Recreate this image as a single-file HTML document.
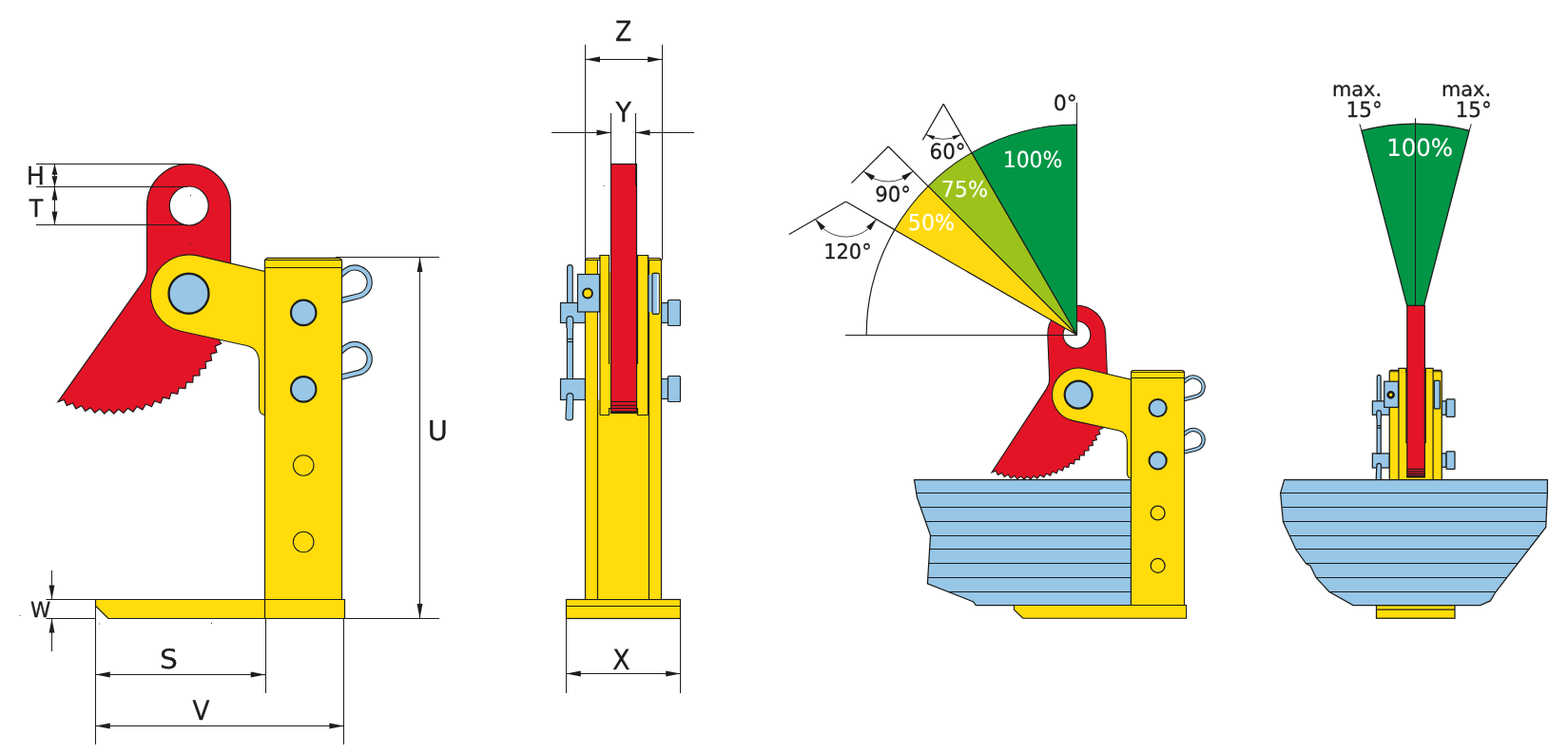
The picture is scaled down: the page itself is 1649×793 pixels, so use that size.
<!DOCTYPE html>
<html lang="en">
<head>
<meta charset="utf-8">
<title>Clamp dimensions and load diagram</title>
<style>
html,body{margin:0;padding:0;background:#fff;}
body{width:1649px;height:793px;overflow:hidden;}
svg{display:block;}
text{text-rendering:geometricPrecision;font-family:"DejaVu Sans Condensed","DejaVu Sans","Liberation Sans",sans-serif;fill:#1d1d1b;stroke:#1d1d1b;stroke-linejoin:round;}
text.r{font-family:"DejaVu Sans","Liberation Sans",sans-serif;}
text.l{font-family:"Liberation Sans","DejaVu Sans",sans-serif;}
text.w{fill:#fff;stroke:#fff;}
.ah{fill:#1d1d1b;stroke:none;}
</style>
</head>
<body>
<svg width="1649" height="793" viewBox="0 0 1649 793">
<rect width="1649" height="793" fill="#fff"/>
<g fill="none" stroke="#1d1d1b" stroke-width="1" stroke-linejoin="miter">
<g transform="" stroke-width="1.2">
<path d="M355,316.9 L377.5,311.3 C384,309.5 388.7,304 388.7,297 C388.7,288.5 381.5,281.4 372.5,281.4 C366.5,281.4 362,285.6 355,292.2" fill="none" stroke-width="6.3"/>
<path d="M355,316.9 L377.5,311.3 C384,309.5 388.7,304 388.7,297 C388.7,288.5 381.5,281.4 372.5,281.4 C366.5,281.4 362,285.6 355,292.2" fill="none" stroke="#97c6e7" stroke-width="4.02"/>
<path d="M355,397.5 L377.5,391.9 C384,390.1 388.7,384.6 388.7,377.6 C388.7,369.1 381.5,362 372.5,362 C366.5,362 362,366.2 355,372.8" fill="none" stroke-width="6.3"/>
<path d="M355,397.5 L377.5,391.9 C384,390.1 388.7,384.6 388.7,377.6 C388.7,369.1 381.5,362 372.5,362 C366.5,362 362,366.2 355,372.8" fill="none" stroke="#97c6e7" stroke-width="4.02"/>
<g><path d="M154.5,216.5 A44,44 0 0 1 242.5,216.5 L242.5,300 L228.6,355 L232.69,361.57 L226.36,363.99 L228.02,370.56 L221.52,372.47 L222.65,379.15 L216.02,380.54 L216.62,387.29 L209.9,388.16 L209.97,394.93 L203.21,395.26 L202.74,402.02 L195.97,401.82 L194.97,408.52 L188.24,407.79 L186.71,414.39 L180.06,413.12 L178.02,419.59 L171.48,417.8 L168.94,424.08 L162.56,421.78 L159.53,427.84 L153.36,425.05 L149.86,430.85 L143.93,427.58 L139.98,433.09 L134.32,429.36 L129.96,434.54 L124.61,430.38 L119.85,435.2 L114.85,430.63 L109.72,435.06 L105.09,430.1 L99.63,434.11 L95.41,428.81 L89.65,432.38 L85.86,426.76 L79.84,429.86 L76.51,423.96 L70.26,426.58 L67.4,420.43 L60.96,422.55 L149.9,297.2 Q154.5,290.5 154.5,283 Z" fill="#e41427"/>
<circle cx="198.75" cy="216.5" r="20.5" fill="#fff"/></g>
<polygon points="100.5,630.5 362.5,630.5 362.5,650.5 113.9,650.5 100.5,637.3" fill="#ffdc0a"/>
<path d="M278.5,630.5 V273.6 L280.9,271.4 H357.1 L359.5,273.6 V630.5 Z" fill="#ffdc0a"/>
<line x1="278.5" y1="273.5" x2="359.5" y2="273.5"/>
<line x1="278.5" y1="281.5" x2="359.5" y2="281.5"/>
<line x1="278.5" y1="630.5" x2="278.5" y2="650.5"/>
<path d="M207.87,268.87 L278.5,285.4 L278.5,436.4 Q273.2,436 272.5,429.5 L272.5,381.5 Q272.5,366.48 259.5,363.48 L189.9,348.26 A40.7,40.7 0 0 1 207.87,268.87 Z" fill="#ffdc0a" stroke-width="1.08"/>
<line x1="278.5" y1="284" x2="278.5" y2="437"/>
<circle cx="198.5" cy="308.7" r="21" fill="#97c6e7" stroke-width="2.4"/>
<circle cx="319.2" cy="328.9" r="13.2" fill="#97c6e7" stroke-width="2.16"/>
<circle cx="319.2" cy="409.4" r="13.2" fill="#97c6e7" stroke-width="2.16"/>
<circle cx="319.2" cy="489.5" r="10.8" fill="none" stroke-width="1.08"/>
<circle cx="319.2" cy="570" r="10.8" fill="none" stroke-width="1.08"/>
</g>
<line x1="38" y1="172.5" x2="197" y2="172.5"/>
<line x1="38" y1="196.5" x2="197" y2="196.5"/>
<line x1="38" y1="236.5" x2="197" y2="236.5"/>
<line x1="57.5" y1="172.5" x2="57.5" y2="236.5"/>
<polygon class="ah" points="57.5,172.5 60.45,183.7 54.55,183.7"/>
<polygon class="ah" points="57.5,196.5 54.55,185.3 60.45,185.3"/>
<polygon class="ah" points="57.5,196.5 60.45,210.5 54.55,210.5"/>
<polygon class="ah" points="57.5,236.5 54.55,222.5 60.45,222.5"/>
<line x1="48.5" y1="630.5" x2="100.5" y2="630.5"/>
<line x1="48.5" y1="650.5" x2="100.5" y2="650.5"/>
<line x1="54.5" y1="600" x2="54.5" y2="630.5"/>
<line x1="54.5" y1="650.5" x2="54.5" y2="685"/>
<polygon class="ah" points="54.5,630.5 51.55,615.5 57.45,615.5"/>
<polygon class="ah" points="54.5,650.5 57.45,665.5 51.55,665.5"/>
<line x1="100.5" y1="630.5" x2="100.5" y2="783"/>
<line x1="279.5" y1="650.5" x2="279.5" y2="729"/>
<line x1="361.5" y1="650.5" x2="361.5" y2="783"/>
<line x1="100.5" y1="709.5" x2="279" y2="709.5"/>
<polygon class="ah" points="100.5,709.5 115.8,706.55 115.8,712.45"/>
<polygon class="ah" points="279,709.5 263.7,712.45 263.7,706.55"/>
<line x1="100.5" y1="763.5" x2="361.7" y2="763.5"/>
<polygon class="ah" points="100.5,763.5 115.8,760.55 115.8,766.45"/>
<polygon class="ah" points="361.7,763.5 346.4,766.45 346.4,760.55"/>
<line x1="353" y1="270.5" x2="462" y2="270.5"/>
<line x1="363" y1="650.5" x2="462" y2="650.5"/>
<line x1="441.5" y1="270.4" x2="441.5" y2="650.5"/>
<polygon class="ah" points="441.5,270.4 444.45,285.9 438.55,285.9"/>
<polygon class="ah" points="441.5,650.5 438.55,635 444.45,635"/>
<circle cx="200.5" cy="205.5" r="0.55" fill="#1d1d1b" stroke="none"/>
<circle cx="200.5" cy="256.7" r="0.55" fill="#1d1d1b" stroke="none"/>
<circle cx="21" cy="647.5" r="0.55" fill="#1d1d1b" stroke="none"/>
<circle cx="104.5" cy="656" r="0.55" fill="#1d1d1b" stroke="none"/>
<circle cx="222.5" cy="655.5" r="0.55" fill="#1d1d1b" stroke="none"/>
<circle cx="635.2" cy="195.5" r="0.55" fill="#1d1d1b" stroke="none"/>
<circle cx="662.5" cy="195.5" r="0.55" fill="#1d1d1b" stroke="none"/>
<g transform="" stroke-width="1.2">
<path d="M596.6,318.5 V281.5 A2.8,2.8 0 0 1 602.2,281.5 V318.5 Z" fill="#97c6e7"/>
<rect x="589.5" y="318.5" width="26" height="21" fill="#97c6e7"/>
<rect x="589.5" y="398.5" width="26" height="22" fill="#97c6e7"/>
<path d="M596.4,398.5 V339.5 H602.4 V398.5 Z" fill="#97c6e7"/>
<line x1="596.4" y1="356.5" x2="602.4" y2="356.5"/>
<line x1="596.4" y1="359.5" x2="602.4" y2="359.5"/>
<path d="M595.9,345 V336 A3.4,3.4 0 0 1 602.7,336 V345" fill="#97c6e7"/>
<path d="M595,440 L596,417 A3.4,3.4 0 0 1 602.8,417 L602.4,440 A3.7,1.8 0 0 1 595,440 Z" fill="#97c6e7"/>
<rect x="695.5" y="318.5" width="7" height="21" fill="#97c6e7"/>
<rect x="702.5" y="315.5" width="13" height="27" rx="1" fill="#97c6e7"/>
<rect x="695.5" y="398.5" width="7" height="21" fill="#97c6e7"/>
<rect x="702.5" y="395.5" width="13" height="27" rx="1" fill="#97c6e7"/>
<rect x="595.5" y="630.5" width="120" height="20" fill="#ffdc0a"/>
<line x1="595.5" y1="637.5" x2="715.5" y2="637.5"/>
<path d="M615.5,630.5 V273.3 L617.2,271.5 H693.8 L695.5,273.3 V630.5 Z" fill="#ffdc0a"/>
<line x1="615.5" y1="273.5" x2="695.5" y2="273.5" stroke-width="1.2"/>
<line x1="628.5" y1="273.3" x2="628.5" y2="630.5"/>
<line x1="682.5" y1="273.3" x2="682.5" y2="630.5"/>
<rect x="629" y="274" width="1.7" height="146.4" fill="#fff" stroke="none"/>
<path d="M631,436.5 V268.5 H640.5 V383 M642.5,429.5 H640.5 V436.5 H631" fill="none" stroke-width="1.08"/>
<path d="M631,274.5 V268.5 H640.5 V274.5" fill="#ffdc0a" stroke-width="1.08"/>
<rect x="641.1" y="268.6" width="1" height="18" fill="#fff" stroke="none"/>
<path d="M681.5,436.5 V268.5 H670.5 V383 M669.5,429.5 H670.5 V436.5 H681.5" fill="none"/>
<path d="M670.5,274.5 V268.5 H681.5 V274.5" fill="#ffdc0a"/>
<rect x="607.5" y="288.5" width="23" height="39.5" fill="#97c6e7"/>
<circle cx="618" cy="308.5" r="4.9" fill="#ffdc0a" stroke-width="2.04"/>
<rect x="682.4" y="289" width="4" height="39" fill="#97c6e7" stroke="none"/>
<rect x="686" y="287.3" width="7.2" height="43" rx="1.2" fill="#97c6e7"/>
<rect x="691.2" y="288.6" width="1.4" height="40.4" fill="#fff" stroke="none"/>
<rect x="642.5" y="172.5" width="27" height="262" fill="#e41427"/>
<line x1="670" y1="268.5" x2="670" y2="383" stroke-width="1.56"/>
<line x1="642.5" y1="422.5" x2="669.5" y2="422.5"/>
<line x1="642.5" y1="426.5" x2="669.5" y2="426.5"/>
<line x1="642.5" y1="429.5" x2="669.5" y2="429.5"/>
<line x1="642" y1="433.5" x2="670" y2="433.5" stroke-width="2.64"/>
</g>
<line x1="615.5" y1="47" x2="615.5" y2="273"/>
<line x1="696.5" y1="47" x2="696.5" y2="273"/>
<line x1="615.5" y1="62.5" x2="696.6" y2="62.5"/>
<polygon class="ah" points="615.5,62.5 631,59.55 631,65.45"/>
<polygon class="ah" points="696.6,62.5 681.1,65.45 681.1,59.55"/>
<line x1="642.5" y1="119" x2="642.5" y2="172.3"/>
<line x1="668.5" y1="119" x2="668.5" y2="195.5"/>
<line x1="580" y1="139.5" x2="642.5" y2="139.5"/>
<line x1="668.5" y1="139.5" x2="730" y2="139.5"/>
<polygon class="ah" points="642.5,139.5 627.5,142.45 627.5,136.55"/>
<polygon class="ah" points="668.5,139.5 683.5,136.55 683.5,142.45"/>
<line x1="595.5" y1="650.5" x2="595.5" y2="729"/>
<line x1="715.5" y1="650.5" x2="715.5" y2="729"/>
<line x1="595.5" y1="708.5" x2="715.5" y2="708.5"/>
<polygon class="ah" points="595.5,708.5 610.8,705.55 610.8,711.45"/>
<polygon class="ah" points="715.5,708.5 700.2,711.45 700.2,705.55"/>
<polygon points="961.5,504.6 964.4,523 978.5,563 975.4,613.75 1023.75,632.9 1026.25,636.5 1189.5,636.5 1189.5,504.6" fill="#97c6e7" stroke-width="1.25"/>
<line x1="963.69" y1="518.5" x2="1189.5" y2="518.5" stroke-width="1.15"/>
<line x1="968.1" y1="533.5" x2="1189.5" y2="533.5" stroke-width="1.15"/>
<line x1="973.39" y1="548.5" x2="1189.5" y2="548.5" stroke-width="1.15"/>
<line x1="978.49" y1="563.5" x2="1189.5" y2="563.5" stroke-width="1.15"/>
<line x1="977.61" y1="577.5" x2="1189.5" y2="577.5" stroke-width="1.15"/>
<line x1="976.7" y1="592.5" x2="1189.5" y2="592.5" stroke-width="1.15"/>
<line x1="975.78" y1="607.5" x2="1189.5" y2="607.5" stroke-width="1.15"/>
<line x1="996.99" y1="622.5" x2="1189.5" y2="622.5" stroke-width="1.15"/>
<g transform="translate(996.957 202.823) scale(0.69136 0.68783)" stroke-width="1.6">
<path d="M355,316.9 L377.5,311.3 C384,309.5 388.7,304 388.7,297 C388.7,288.5 381.5,281.4 372.5,281.4 C366.5,281.4 362,285.6 355,292.2" fill="none" stroke-width="6.3"/>
<path d="M355,316.9 L377.5,311.3 C384,309.5 388.7,304 388.7,297 C388.7,288.5 381.5,281.4 372.5,281.4 C366.5,281.4 362,285.6 355,292.2" fill="none" stroke="#97c6e7" stroke-width="3.26"/>
<path d="M355,397.5 L377.5,391.9 C384,390.1 388.7,384.6 388.7,377.6 C388.7,369.1 381.5,362 372.5,362 C366.5,362 362,366.2 355,372.8" fill="none" stroke-width="6.3"/>
<path d="M355,397.5 L377.5,391.9 C384,390.1 388.7,384.6 388.7,377.6 C388.7,369.1 381.5,362 372.5,362 C366.5,362 362,366.2 355,372.8" fill="none" stroke="#97c6e7" stroke-width="3.26"/>
<g transform="translate(0.8 -0.4) rotate(-2.3 198.75 308)"><path d="M154.5,216.5 A44,44 0 0 1 242.5,216.5 L242.5,300 L228.6,355 L232.69,361.57 L226.36,363.99 L228.02,370.56 L221.52,372.47 L222.65,379.15 L216.02,380.54 L216.62,387.29 L209.9,388.16 L209.97,394.93 L203.21,395.26 L202.74,402.02 L195.97,401.82 L194.97,408.52 L188.24,407.79 L186.71,414.39 L180.06,413.12 L178.02,419.59 L171.48,417.8 L168.94,424.08 L162.56,421.78 L159.53,427.84 L153.36,425.05 L149.86,430.85 L143.93,427.58 L139.98,433.09 L134.32,429.36 L129.96,434.54 L124.61,430.38 L119.85,435.2 L114.85,430.63 L109.72,435.06 L105.09,430.1 L99.63,434.11 L95.41,428.81 L89.65,432.38 L85.86,426.76 L79.84,429.86 L76.51,423.96 L70.26,426.58 L67.4,420.43 L60.96,422.55 L149.9,297.2 Q154.5,290.5 154.5,283 Z" fill="#e41427"/>
<circle cx="198.75" cy="217.2" r="20.8" fill="#fff"/></g>
<polygon points="100.5,630.5 362.5,630.5 362.5,650.5 113.9,650.5 100.5,637.3" fill="#ffdc0a"/>
<path d="M278.5,630.5 V273.6 L280.9,271.4 H357.1 L359.5,273.6 V630.5 Z" fill="#ffdc0a"/>
<line x1="278.5" y1="274.3" x2="359.5" y2="274.3" stroke-width="1.28"/>
<line x1="278.5" y1="283.05" x2="359.5" y2="283.05" stroke-width="1.44"/>
<path d="M207.87,268.87 L278.5,285.4 L278.5,436.4 Q273.2,436 272.5,429.5 L272.5,381.5 Q272.5,366.48 259.5,363.48 L189.9,348.26 A40.7,40.7 0 0 1 207.87,268.87 Z" fill="#ffdc0a" stroke-width="1.6"/>
<line x1="278.5" y1="284" x2="278.5" y2="437"/>
<circle cx="198.5" cy="308.7" r="21" fill="#97c6e7" stroke-width="3.2"/>
<circle cx="319.2" cy="328.9" r="13.2" fill="#97c6e7" stroke-width="2.88"/>
<circle cx="319.2" cy="409.4" r="13.2" fill="#97c6e7" stroke-width="2.88"/>
<circle cx="319.2" cy="489.5" r="10.8" fill="none" stroke-width="1.92"/>
<circle cx="319.2" cy="570" r="10.8" fill="none" stroke-width="1.92"/>
</g>
<path d="M1132.5,352.3 L1132.5,131 A221.3,221.3 0 0 0 1021.85,160.65 Z" fill="#009646" stroke-linejoin="bevel" stroke-width="1.15"/>
<path d="M1132.5,352.3 L1021.85,160.65 A221.3,221.3 0 0 0 976.02,195.82 Z" fill="#9cc31c" stroke-linejoin="bevel" stroke-width="1.15"/>
<path d="M1132.5,352.3 L976.02,195.82 A221.3,221.3 0 0 0 940.85,241.65 Z" fill="#ffd90f" stroke-linejoin="bevel" stroke-width="1.15"/>
<path d="M940.85,241.65 A221.3,221.3 0 0 0 911.2,352.3" stroke-width="1.2"/>
<line x1="889" y1="352.5" x2="1132.5" y2="352.5"/>
<line x1="1132.5" y1="108" x2="1132.5" y2="352.3"/>
<line x1="1021.85" y1="160.65" x2="992.25" y2="109.38" stroke-width="1.25"/>
<line x1="992.25" y1="109.38" x2="970.35" y2="147.31" stroke-width="1.25"/>
<path d="M973.75,141.42 A37,37 0 0 0 1010.75,141.42" stroke-width="0.8"/>
<polygon class="ah" points="973.75,141.42 983.18,143 981.47,147.05"/>
<polygon class="ah" points="1010.75,141.42 1003.03,147.05 1001.32,143"/>
<line x1="976.02" y1="195.82" x2="934.16" y2="153.96" stroke-width="1.25"/>
<line x1="934.16" y1="153.96" x2="895.48" y2="192.64" stroke-width="1.25"/>
<path d="M907.99,180.12 A37,37 0 0 0 960.32,180.12" stroke-width="0.8"/>
<polygon class="ah" points="907.99,180.12 920.13,185.1 916.8,189.85"/>
<polygon class="ah" points="960.32,180.12 951.51,189.85 948.18,185.1"/>
<line x1="940.85" y1="241.65" x2="889.58" y2="212.05" stroke-width="1.25"/>
<line x1="889.58" y1="212.05" x2="829.82" y2="246.55" stroke-width="1.25"/>
<path d="M857.54,230.55 A37,37 0 0 0 921.62,230.55" stroke-width="0.8"/>
<polygon class="ah" points="857.54,230.55 867.97,238.51 863.52,242.23"/>
<polygon class="ah" points="921.62,230.55 915.63,242.23 911.19,238.51"/>
<g transform="translate(1038.094 202.702) scale(0.68750 0.68802)" stroke-width="1.82">
<path d="M596.6,318.5 V281.5 A2.8,2.8 0 0 1 602.2,281.5 V318.5 Z" fill="#97c6e7"/>
<rect x="589.5" y="318.5" width="26" height="21" fill="#97c6e7"/>
<rect x="589.5" y="398.5" width="26" height="22" fill="#97c6e7"/>
<path d="M596.4,398.5 V339.5 H602.4 V398.5 Z" fill="#97c6e7"/>
<line x1="596.4" y1="356" x2="602.4" y2="356"/>
<line x1="596.4" y1="359.6" x2="602.4" y2="359.6"/>
<path d="M595.9,345 V336 A3.4,3.4 0 0 1 602.7,336 V345" fill="#97c6e7"/>
<path d="M595,440 L596,417 A3.4,3.4 0 0 1 602.8,417 L602.4,440 A3.7,1.8 0 0 1 595,440 Z" fill="#97c6e7"/>
<rect x="695.5" y="318.5" width="7" height="21" fill="#97c6e7"/>
<rect x="702.5" y="315.5" width="13" height="27" rx="1" fill="#97c6e7"/>
<rect x="695.5" y="398.5" width="7" height="21" fill="#97c6e7"/>
<rect x="702.5" y="395.5" width="13" height="27" rx="1" fill="#97c6e7"/>
<rect x="595.5" y="630.5" width="120" height="20" fill="#ffdc0a"/>
<line x1="595.5" y1="637.3" x2="715.5" y2="637.3"/>
<path d="M615.5,630.5 V273.3 L617.2,271.5 H693.8 L695.5,273.3 V630.5 Z" fill="#ffdc0a"/>
<line x1="615.5" y1="273.4" x2="695.5" y2="273.4" stroke-width="1.27"/>
<line x1="629.6" y1="273.3" x2="629.6" y2="630.5"/>
<line x1="682.2" y1="273.3" x2="682.2" y2="630.5"/>
<path d="M629.6,274.5 V268.5 H641 V274.5" fill="#ffdc0a"/>
<path d="M670.5,274.5 V268.5 H682.2 V274.5" fill="#ffdc0a"/>
<path d="M641.4,268.5 V383 M670.4,268.5 V383" fill="none" stroke-width="2.18"/>
<rect x="607.5" y="288.5" width="21.5" height="39.5" fill="#97c6e7"/>
<circle cx="617.6" cy="309" r="4.4" fill="#ffdc0a" stroke-width="3.82"/>
<rect x="684" y="287.3" width="8.6" height="43" rx="1.2" fill="#97c6e7"/>
<rect x="642.5" y="172.5" width="27" height="262" fill="#e41427"/>
<line x1="670" y1="268.5" x2="670" y2="383" stroke-width="2.36"/>
<line x1="642.5" y1="422.5" x2="669.5" y2="422.5"/>
<line x1="642.5" y1="426.2" x2="669.5" y2="426.2"/>
<line x1="642.5" y1="429.6" x2="669.5" y2="429.6"/>
<line x1="642" y1="433.6" x2="670" y2="433.6" stroke-width="4"/>
</g>
<polygon points="1350.6,504.6 1346.6,518.5 1349.4,548.75 1362.9,578 1373.75,593 1378,595 1384,607.5 1398,622.5 1423,636.5 1556.75,636.5 1567.4,631.9 1573,622.5 1625.75,554.4 1627.4,518.75 1627.4,504.6" fill="#97c6e7" stroke-width="1.25"/>
<line x1="1346.6" y1="518.5" x2="1627.4" y2="518.5" stroke-width="1.15"/>
<line x1="1347.99" y1="533.5" x2="1626.72" y2="533.5" stroke-width="1.15"/>
<line x1="1349.38" y1="548.5" x2="1626.02" y2="548.5" stroke-width="1.15"/>
<line x1="1356.07" y1="563.5" x2="1618.93" y2="563.5" stroke-width="1.15"/>
<line x1="1362.67" y1="577.5" x2="1607.86" y2="577.5" stroke-width="1.15"/>
<line x1="1373.39" y1="592.5" x2="1596.24" y2="592.5" stroke-width="1.15"/>
<line x1="1384" y1="607.5" x2="1584.62" y2="607.5" stroke-width="1.15"/>
<line x1="1397.81" y1="622.5" x2="1573.15" y2="622.5" stroke-width="1.15"/>
<path d="M1479.6,321.3 L1431.9,137.4 A225,225 0 0 1 1545.2,137.4 L1497.5,321.3 Z" fill="#009646" stroke-width="1.3"/>
<line x1="1431.9" y1="137.4" x2="1429.9" y2="130.4"/>
<line x1="1545.2" y1="137.4" x2="1547.3" y2="130.4"/>
<line x1="1488.5" y1="124.4" x2="1488.5" y2="321.3"/>
</g>
<g opacity="0.999">
<text class="r" transform="translate(27.85 194.45) scale(1.0623 1.0845)" font-size="24" stroke-width="0.28">H</text>
<text class="c" transform="translate(30.85 228.4) scale(1.0923 1.0588)" font-size="24" stroke-width="0.28">T</text>
<text class="r" transform="translate(32.1 649.15) scale(0.8967 0.9304)" font-size="24" stroke-width="0.32">W</text>
<text class="r" transform="translate(167.92 703.23) scale(1.2379 1.1755)" font-size="24" stroke-width="0.26">S</text>
<text class="c" transform="translate(202.56 757.15) scale(1.2115 1.1729)" font-size="24" stroke-width="0.26">V</text>
<text class="r" transform="translate(449.8 463.22) scale(1.2016 1.1969)" font-size="24" stroke-width="0.25">U</text>
<text class="c" transform="translate(646.97 42.75) scale(1.1721 1.2215)" font-size="24" stroke-width="0.25">Z</text>
<text class="c" transform="translate(647.6 128.4) scale(1.2462 1.2072)" font-size="24" stroke-width="0.25">Y</text>
<text class="c" transform="translate(644.21 703.65) scale(1.2350 1.2215)" font-size="24" stroke-width="0.25">X</text>
<text class="r" transform="translate(1107.66 116.22) scale(0.9209 0.9272)" font-size="24" stroke-width="0.32">0°</text>
<text class="r" transform="translate(977.6 166.82) scale(0.8904 0.9272)" font-size="24" stroke-width="0.32">60°</text>
<text class="r" transform="translate(920.22 212.42) scale(0.8877 0.9272)" font-size="24" stroke-width="0.32">90°</text>
<text class="r" transform="translate(866.15 272.07) scale(0.8730 0.9078)" font-size="24" stroke-width="0.33">120°</text>
<text class="c w" transform="translate(1054.72 175.65) scale(1.0133 0.9796)" font-size="24" stroke-width="0.1">100%</text>
<text class="r w" transform="translate(989.73 207.4) scale(0.9243 0.9658)" font-size="24" stroke-width="0.1">75%</text>
<text class="r w" transform="translate(954.84 242.4) scale(0.9220 0.9658)" font-size="24" stroke-width="0.1">50%</text>
<text class="r" transform="translate(1400.97 100.59) scale(0.8705 0.8551)" font-size="24" stroke-width="0.35">max.</text>
<text class="r" transform="translate(1415.48 123.07) scale(0.8972 0.9272)" font-size="24" stroke-width="0.32">15°</text>
<text class="r" transform="translate(1515.97 100.59) scale(0.8705 0.8551)" font-size="24" stroke-width="0.35">max.</text>
<text class="r" transform="translate(1530.48 123.07) scale(0.8972 0.9272)" font-size="24" stroke-width="0.32">15°</text>
<text class="r w" transform="translate(1458.16 164.37) scale(1.0173 1.0430)" font-size="24" stroke-width="0.1">100%</text>
</g>
</svg>
</body>
</html>
